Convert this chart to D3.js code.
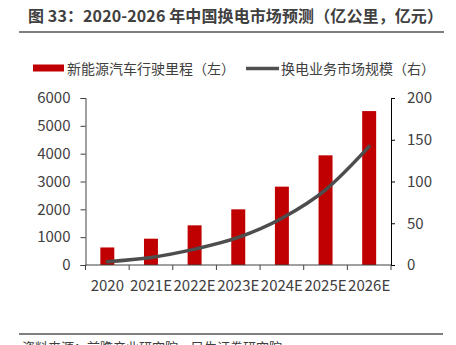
<!DOCTYPE html>
<html><head><meta charset="utf-8">
<script src="https://cdn.jsdelivr.net/npm/d3@7/dist/d3.min.js"></script>
<style>
html,body{margin:0;padding:0;background:#fff;}
svg{display:block;font-family:"Noto Sans CJK SC","Noto Sans",sans-serif;}
</style></head>
<body>
<svg id="c" width="456" height="345"></svg>
<script>
const categories = ["2020","2021E","2022E","2023E","2024E","2025E","2026E"];
const mileage = [630, 945, 1425, 2000, 2815, 3940, 5530];
const marketSize = [4, 9, 19, 33, 56, 90, 142];
const leftTicks = [0,1000,2000,3000,4000,5000,6000];
const rightTicks = [0,50,100,150,200];
const titleText = "图 33：2020-2026 年中国换电市场预测（亿公里，亿元）";
const legendBar = "新能源汽车行驶里程（左）";
const legendLine = "换电业务市场规模（右）";
const sourceText = "资料来源：前瞻产业研究院，民生证券研究院";

const svg = d3.select("#c");
const L = 85.5, R = 391, T = 98, B = 265;
const textColor = "#404040";

// title
svg.append("text").attr("x", 28).attr("y", 22).attr("font-size", 16).attr("font-weight", "bold")
  .attr("fill", "#404040").attr("textLength", 415).attr("lengthAdjust", "spacing").text(titleText);
svg.append("line").attr("x1", 19).attr("x2", 444).attr("y1", 32).attr("y2", 32)
  .attr("stroke", "#555").attr("stroke-width", 1.5);

// legend
svg.append("rect").attr("x", 33).attr("y", 64.5).attr("width", 31).attr("height", 7).attr("fill", "#C00000");
svg.append("text").attr("x", 67).attr("y", 74).attr("font-size", 14).attr("fill", textColor).text(legendBar);
svg.append("line").attr("x1", 246).attr("x2", 279).attr("y1", 68.5).attr("y2", 68.5)
  .attr("stroke", "#505050").attr("stroke-width", 3.5);
svg.append("text").attr("x", 281).attr("y", 74).attr("font-size", 14).attr("fill", textColor).text(legendLine);

const x = d3.scaleBand().domain(categories).range([L, R]).paddingInner(0).paddingOuter(0);
const yL = d3.scaleLinear().domain([0, 6000]).range([B, T]);
const yR = d3.scaleLinear().domain([0, 200]).range([B, T]);

// bars
const bw = x.bandwidth() * 0.32;
svg.append("g").selectAll("rect").data(categories).join("rect")
  .attr("x", d => x(d) + x.bandwidth()/2 - bw/2)
  .attr("width", bw)
  .attr("y", (d,i) => yL(mileage[i]))
  .attr("height", (d,i) => B - yL(mileage[i]))
  .attr("fill", "#C00000");

// axes
const gL = svg.append("g").attr("transform", `translate(${L},0)`)
  .call(d3.axisLeft(yL).tickValues(leftTicks).tickSize(5).tickPadding(10).tickFormat(d3.format("d")));
gL.select(".domain").attr("stroke", "#404040");
gL.selectAll(".tick line").attr("stroke", "#404040");
gL.selectAll("text").attr("font-size", 15).attr("fill", textColor).attr("font-family", "'Noto Sans CJK SC'");

const gR = svg.append("g").attr("transform", `translate(${R},0)`)
  .call(d3.axisRight(yR).tickValues(rightTicks).tickSize(4).tickPadding(12));
gR.select(".domain").attr("stroke", "#000");
gR.selectAll(".tick line").attr("stroke", "#000");
gR.selectAll("text").attr("font-size", 15).attr("fill", textColor).attr("font-family", "'Noto Sans CJK SC'");

const gX = svg.append("g").attr("transform", `translate(0,${B})`);
gX.append("line").attr("x1", L).attr("x2", R).attr("stroke", "#404040");
const bounds = categories.map(c => x(c)).concat([R]);
gX.selectAll("line.t").data(bounds).join("line").attr("class","t")
  .attr("x1", d => d).attr("x2", d => d).attr("y1", 0).attr("y2", 5).attr("stroke", "#404040");
gX.selectAll("text").data(categories).join("text")
  .attr("x", d => x(d) + x.bandwidth()/2).attr("y", 26).attr("text-anchor", "middle")
  .attr("font-size", 15).attr("fill", textColor).text(d => d);

// line
const line = d3.line().x((d,i) => x(categories[i]) + x.bandwidth()/2).y(d => yR(d)).curve(d3.curveMonotoneX);
svg.append("path").datum(marketSize).attr("d", line).attr("fill", "none")
  .attr("stroke", "#4d4d4d").attr("stroke-width", 3.5).attr("stroke-linecap", "round");

// footer
svg.append("line").attr("x1", 19).attr("x2", 443).attr("y1", 334).attr("y2", 334)
  .attr("stroke", "#555").attr("stroke-width", 1.5);
svg.append("text").attr("x", 22).attr("y", 352).attr("font-size", 13).attr("fill", textColor).text(sourceText);
</script>
</body></html>
